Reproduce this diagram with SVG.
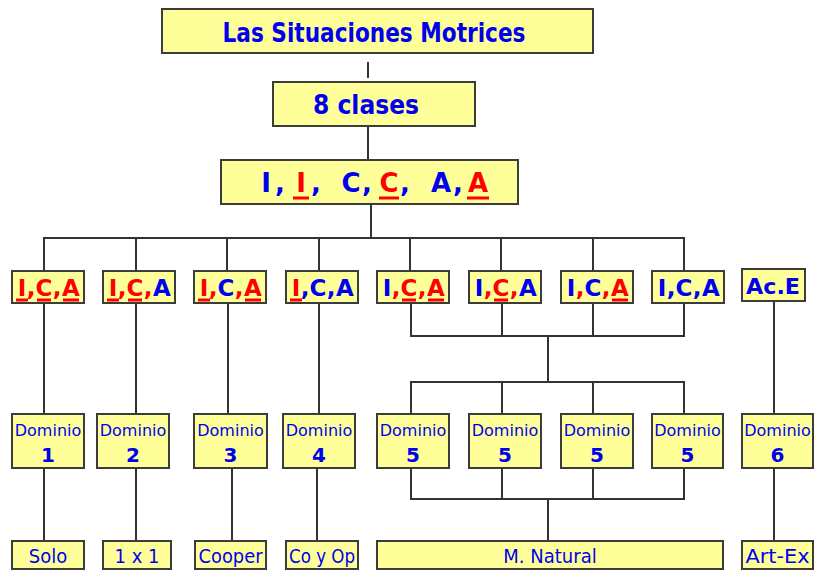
<svg xmlns="http://www.w3.org/2000/svg" width="816" height="570" viewBox="0 0 816 570">
<style>
.box{fill:#ffff99;stroke:#3c3c3c;stroke-width:2}
.ln{stroke:#333;stroke-width:2;fill:none}
.t{font-family:"DejaVu Sans","Liberation Sans",sans-serif;font-weight:bold;fill:#0000ee;text-anchor:middle}
.r{fill:#ff0000}
.u{stroke:#ff0000;stroke-width:3}
.d{font-family:"DejaVu Sans","Liberation Sans",sans-serif;fill:#0000ee;text-anchor:middle;font-size:16px}
.dn{font-weight:bold;font-size:20px}
.s{font-family:"DejaVu Sans Condensed","DejaVu Sans",sans-serif;fill:#0000ee;text-anchor:middle;font-size:20px}
</style>
<rect width="816" height="570" fill="#fff"/>
<g id="connectors">
<line class="ln" x1="368" y1="62" x2="368" y2="78"/>
<line class="ln" x1="368" y1="127" x2="368" y2="160"/>
<line class="ln" x1="371" y1="204" x2="371" y2="238"/>
<polyline class="ln" points="44,271 44,238 684,238 684,271"/>
<line class="ln" x1="136" y1="238" x2="136" y2="271"/>
<line class="ln" x1="227" y1="238" x2="227" y2="271"/>
<line class="ln" x1="319" y1="238" x2="319" y2="271"/>
<line class="ln" x1="410" y1="238" x2="410" y2="271"/>
<line class="ln" x1="501" y1="238" x2="501" y2="271"/>
<line class="ln" x1="593" y1="238" x2="593" y2="271"/>
<line class="ln" x1="44" y1="303" x2="44" y2="414"/>
<line class="ln" x1="136" y1="303" x2="136" y2="414"/>
<line class="ln" x1="228" y1="303" x2="228" y2="414"/>
<line class="ln" x1="319" y1="303" x2="319" y2="414"/>
<polyline class="ln" points="411,303 411,336 684,336 684,303"/>
<line class="ln" x1="502" y1="303" x2="502" y2="336"/>
<line class="ln" x1="593" y1="303" x2="593" y2="336"/>
<line class="ln" x1="548" y1="336" x2="548" y2="382"/>
<polyline class="ln" points="411,414 411,382 684,382 684,414"/>
<line class="ln" x1="502" y1="382" x2="502" y2="414"/>
<line class="ln" x1="593" y1="382" x2="593" y2="414"/>
<line class="ln" x1="774" y1="301" x2="774" y2="414"/>
<line class="ln" x1="44" y1="468" x2="44" y2="540"/>
<line class="ln" x1="136" y1="468" x2="136" y2="540"/>
<line class="ln" x1="232" y1="468" x2="232" y2="540"/>
<line class="ln" x1="317" y1="468" x2="317" y2="540"/>
<polyline class="ln" points="411,468 411,499 684,499 684,468"/>
<line class="ln" x1="502" y1="468" x2="502" y2="499"/>
<line class="ln" x1="593" y1="468" x2="593" y2="499"/>
<line class="ln" x1="548" y1="499" x2="548" y2="540"/>
<line class="ln" x1="774" y1="468" x2="774" y2="540"/>
</g>
<g id="n-title"><rect class="box" x="162" y="9" width="431" height="44"/><text class="t" x="374" y="42" font-size="26" textLength="303" lengthAdjust="spacingAndGlyphs">Las Situaciones Motrices</text></g>
<g id="n-clases"><rect class="box" x="273" y="82" width="202" height="44"/><text class="t" x="366" y="114" font-size="26" textLength="106" lengthAdjust="spacingAndGlyphs">8 clases</text></g>
<g id="n-icas"><rect class="box" x="221" y="160" width="297" height="44"/>
<g class="t" font-size="26">
<text x="266" y="192">I</text><text x="280" y="192">,</text>
<text x="301" y="192" class="r">I</text><text x="316" y="192">,</text>
<text x="351" y="192">C</text><text x="367" y="192">,</text>
<text x="389" y="192" class="r">C</text><text x="405" y="192">,</text>
<text x="441" y="192">A</text><text x="458" y="192">,</text>
<text x="478" y="192" class="r">A</text>
</g>
<line class="u" x1="293" y1="198" x2="309" y2="198"/>
<line class="u" x1="379" y1="198" x2="399" y2="198"/>
<line class="u" x1="467" y1="198" x2="489" y2="198"/>
</g>
<g id="n-c1"><rect class="box" x="12" y="271" width="72" height="32"/>
<g class="t" font-size="23"><text x="22" y="296" class="r">I</text><text x="31" y="296" class="r">,</text><text x="44" y="296" class="r">C</text><text x="57" y="296" class="r">,</text><text x="71" y="296" class="r">A</text></g>
<line class="u" x1="16" y1="300" x2="28" y2="300"/><line class="u" x1="37" y1="300" x2="51" y2="300"/><line class="u" x1="63" y1="300" x2="79" y2="300"/></g>
<g id="n-c2"><rect class="box" x="103" y="271" width="72" height="32"/>
<g class="t" font-size="23"><text x="113" y="296" class="r">I</text><text x="122" y="296" class="r">,</text><text x="135" y="296" class="r">C</text><text x="148" y="296" class="r">,</text><text x="162" y="296">A</text></g>
<line class="u" x1="107" y1="300" x2="119" y2="300"/><line class="u" x1="128" y1="300" x2="142" y2="300"/></g>
<g id="n-c3"><rect class="box" x="194" y="271" width="72" height="32"/>
<g class="t" font-size="23"><text x="204" y="296" class="r">I</text><text x="213" y="296" class="r">,</text><text x="226" y="296">C</text><text x="239" y="296" class="r">,</text><text x="253" y="296" class="r">A</text></g>
<line class="u" x1="198" y1="300" x2="210" y2="300"/><line class="u" x1="245" y1="300" x2="261" y2="300"/></g>
<g id="n-c4"><rect class="box" x="286" y="271" width="72" height="32"/>
<g class="t" font-size="23"><text x="296" y="296" class="r">I</text><text x="305" y="296">,</text><text x="318" y="296">C</text><text x="331" y="296">,</text><text x="345" y="296">A</text></g>
<line class="u" x1="290" y1="300" x2="302" y2="300"/></g>
<g id="n-c5"><rect class="box" x="377" y="271" width="72" height="32"/>
<g class="t" font-size="23"><text x="387" y="296">I</text><text x="396" y="296" class="r">,</text><text x="409" y="296" class="r">C</text><text x="422" y="296" class="r">,</text><text x="436" y="296" class="r">A</text></g>
<line class="u" x1="402" y1="300" x2="416" y2="300"/><line class="u" x1="428" y1="300" x2="444" y2="300"/></g>
<g id="n-c6"><rect class="box" x="469" y="271" width="72" height="32"/>
<g class="t" font-size="23"><text x="479" y="296">I</text><text x="488" y="296" class="r">,</text><text x="501" y="296" class="r">C</text><text x="514" y="296" class="r">,</text><text x="528" y="296">A</text></g>
<line class="u" x1="494" y1="300" x2="508" y2="300"/></g>
<g id="n-c7"><rect class="box" x="561" y="271" width="72" height="32"/>
<g class="t" font-size="23"><text x="571" y="296">I</text><text x="580" y="296" class="r">,</text><text x="593" y="296">C</text><text x="606" y="296" class="r">,</text><text x="620" y="296" class="r">A</text></g>
<line class="u" x1="612" y1="300" x2="628" y2="300"/></g>
<g id="n-c8"><rect class="box" x="652" y="271" width="72" height="32"/>
<g class="t" font-size="23"><text x="662" y="296">I</text><text x="671" y="296">,</text><text x="684" y="296">C</text><text x="697" y="296">,</text><text x="711" y="296">A</text></g></g>
<g id="n-ace"><rect class="box" x="742" y="269" width="63" height="32"/><text class="t" x="773" y="294" font-size="22" textLength="54" lengthAdjust="spacingAndGlyphs">Ac.E</text></g>
<g id="n-d1"><rect class="box" x="12" y="414" width="72" height="54"/><text class="d" x="48" y="436">Dominio</text><text class="d dn" x="48" y="462">1</text></g>
<g id="n-d2"><rect class="box" x="97" y="414" width="72" height="54"/><text class="d" x="133" y="436">Dominio</text><text class="d dn" x="133" y="462">2</text></g>
<g id="n-d3"><rect class="box" x="194" y="414" width="73" height="54"/><text class="d" x="230.5" y="436">Dominio</text><text class="d dn" x="230.5" y="462">3</text></g>
<g id="n-d4"><rect class="box" x="283" y="414" width="72" height="54"/><text class="d" x="319" y="436">Dominio</text><text class="d dn" x="319" y="462">4</text></g>
<g id="n-d5a"><rect class="box" x="377" y="414" width="72" height="54"/><text class="d" x="413" y="436">Dominio</text><text class="d dn" x="413" y="462">5</text></g>
<g id="n-d5b"><rect class="box" x="469" y="414" width="72" height="54"/><text class="d" x="505" y="436">Dominio</text><text class="d dn" x="505" y="462">5</text></g>
<g id="n-d5c"><rect class="box" x="561" y="414" width="72" height="54"/><text class="d" x="597" y="436">Dominio</text><text class="d dn" x="597" y="462">5</text></g>
<g id="n-d5d"><rect class="box" x="652" y="414" width="71" height="54"/><text class="d" x="687.5" y="436">Dominio</text><text class="d dn" x="687.5" y="462">5</text></g>
<g id="n-d6"><rect class="box" x="742" y="414" width="71" height="54"/><text class="d" x="777.5" y="436">Dominio</text><text class="d dn" x="777.5" y="462">6</text></g>
<g id="n-solo"><rect class="box" x="12" y="541" width="72" height="28"/><text class="s" x="48" y="563">Solo</text></g>
<g id="n-1x1"><rect class="box" x="103" y="541" width="68" height="28"/><text class="s" x="137" y="563">1 x 1</text></g>
<g id="n-cooper"><rect class="box" x="195" y="541" width="71" height="28"/><text class="s" x="230.5" y="563" textLength="64" lengthAdjust="spacingAndGlyphs">Cooper</text></g>
<g id="n-coyop"><rect class="box" x="286" y="541" width="72" height="28"/><text class="s" x="322" y="563" textLength="66" lengthAdjust="spacingAndGlyphs">Co y Op</text></g>
<g id="n-natural"><rect class="box" x="377" y="541" width="346" height="28"/><text class="s" x="550" y="563">M. Natural</text></g>
<g id="n-artex"><rect class="box" x="742" y="541" width="71" height="28"/><text class="s" x="777.5" y="563" textLength="64" lengthAdjust="spacingAndGlyphs">Art-Ex</text></g>
</svg>
